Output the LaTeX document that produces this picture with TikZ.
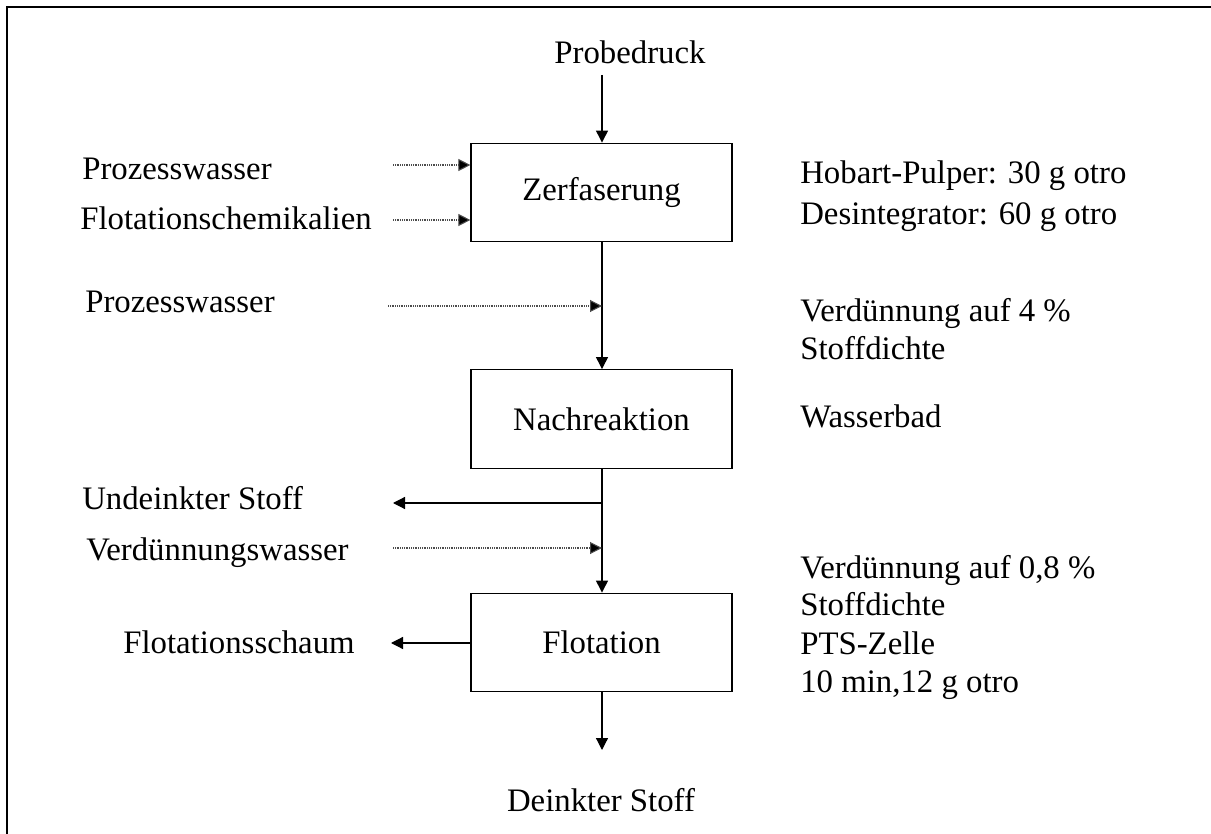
\documentclass[tikz,border=0pt]{standalone}
\usepackage{fontspec}
\setmainfont{Liberation Serif}
\usetikzlibrary{arrows.meta}
\begin{document}
\begin{tikzpicture}[x=0.75pt,y=-0.75pt,
  every node/.style={font=\fontsize{24.6}{29}\selectfont, inner sep=0pt},
  stage/.style={draw, line width=0.9pt, minimum width=195.75pt, minimum height=74pt},
  flow/.style={line width=0.9pt, -{Triangle[length=9pt,width=9pt]}},
  feed/.style={line width=0.8pt, black!70, dash pattern=on 0.75pt off 0.6pt,
    -{Triangle[length=9pt,width=9pt,fill=black]}},
  lbl/.style={anchor=base west}]
\useasboundingbox (0,0) rectangle (1211,834);
% frame
\draw[line width=1.6pt] (7,834) -- (7,7) -- (1211,7);

% process stages
\node[stage] (zer) at (601.5,192.5) {Zerfaserung};
\node[stage] (nach) at (601.5,419) {Nachreaktion};
\node[stage] (flot) at (601.5,642.5) {Flotation};

% main line
\node (probe) at (630,52) {Probedruck};
\coordinate (p0) at (602,75);
\draw[flow] (p0) -- (zer.north -| p0);
\draw[flow] (zer.south -| p0) -- (nach.north -| p0);
\draw[flow] (nach.south -| p0) -- (flot.north -| p0);
\coordinate (p1) at (602,750);
\draw[flow] (flot.south -| p0) -- (p1);
\node (deink) at (601,800) {Deinkter Stoff};

% inputs and outputs
\node[lbl] (pw1) at (82,180) {Prozesswasser};
\node[lbl] (chem) at (80,230) {Flotationschemikalien};
\node[lbl] (pw2) at (85,313) {Prozesswasser};
\node[lbl] (undeink) at (82,509) {Undeinkter Stoff};
\node[lbl] (vwasser) at (86,560) {Verdünnungswasser};
\node[lbl] (schaum) at (123,653) {Flotationsschaum};

\coordinate (a1) at (393,165);
\coordinate (a2) at (393,220);
\coordinate (a3) at (388,306);
\coordinate (a4) at (393,503);
\coordinate (a5) at (393,548);
\coordinate (a6) at (391,643);
\draw[feed] (a1) -- (zer.west |- a1);
\draw[feed] (a2) -- (zer.west |- a2);
\draw[feed] (a3) -- (p0 |- a3);
\draw[flow] (p0 |- a4) -- (a4);
\draw[feed] (a5) -- (p0 |- a5);
\draw[flow] (flot.west |- a6) -- (a6);

% settings
\node[lbl] (hob) at (800,184) {Hobart-Pulper: 30 g otro};
\node[lbl] (des) at (800,225) {Desintegrator: 60 g otro};
\node[lbl] (v4) at (800,322) {Verdünnung auf 4 \%};
\node[lbl] (sd1) at (800,360) {Stoffdichte};
\node[lbl] (bad) at (800,427) {Wasserbad};
\node[lbl] (v08) at (800,578) {Verdünnung auf 0,8 \%};
\node[lbl] (sd2) at (800,615) {Stoffdichte};
\node[lbl] (pts) at (800,654) {PTS-Zelle};
\node[lbl] (min) at (800,692) {10 min,12 g otro};
\end{tikzpicture}
\end{document}
